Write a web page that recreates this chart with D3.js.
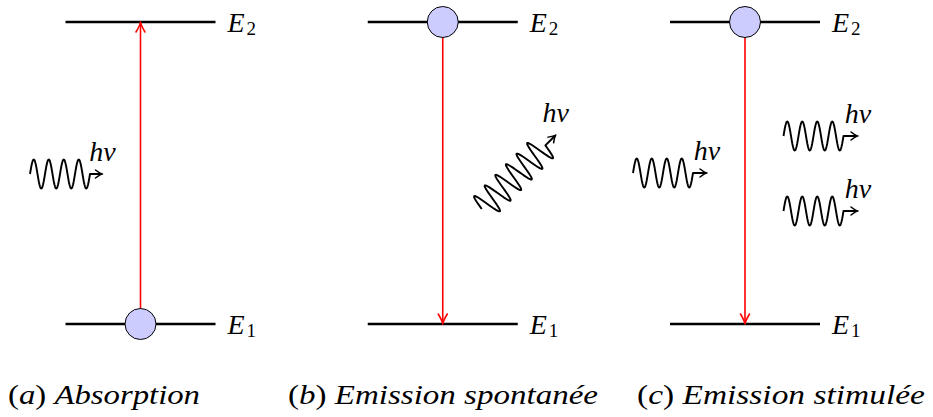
<!DOCTYPE html>
<html>
<head>
<meta charset="utf-8">
<script src="https://cdn.jsdelivr.net/npm/d3@7/dist/d3.min.js"></script>
<style>
  html, body { margin: 0; padding: 0; background: #fff; }
  svg { display: block; }
</style>
</head>
<body>
<svg id="chart" width="933" height="417"></svg>
<script>
// ---------- data ----------
const panelIds = ["a", "b", "c"];
const captionTexts = ["Absorption", "Emission spontanée", "Emission stimulée"];
const levelValues = [1, 2];              // energy levels E1, E2
const levelSubscripts = ["1", "2"];
const electronLevel = [1, 2, 2];         // where the electron (circle) sits in each panel
const transitionFrom = [1, 2, 2];        // red arrow start level
const transitionTo = [2, 1, 1];          // red arrow end level
const photonPanel = ["a", "b", "c", "c", "c"];
const photonPeriods = [4, 6, 4, 4, 4];
const photonLabel = "hν";

// ---------- layout ----------
const FONT = "'Liberation Serif', 'Times New Roman', Times, 'DejaVu Serif', serif";
const x = d3.scalePoint().domain(panelIds).range([140.5, 745]);
const y = d3.scaleLinear().domain([1, 2]).range([324, 22]);
const levelHalf = 75;
const electronR = 15.5;
const photonGeom = [
  { x0: -110.5, y0: 174, x1: -38, y1: 174 },
  { x0: 39, y0: 209, x1: 113, y1: 135 },
  { x0: -112, y0: 173, x1: -38, y1: 173 },
  { x0: 38.5, y0: 136, x1: 113, y1: 136 },
  { x0: 38.5, y0: 211, x1: 113, y1: 211 }
];
const wavePeriod = 15, waveAmp = 14.5;
const captionSpan = [[8, 200], [288, 598], [637, 925]];
const captionBaseline = 404;

const svg = d3.select("#chart");

function arrowHead(g, tx, ty, dx, dy, L, w, color, sw) {
  const n = Math.hypot(dx, dy); dx /= n; dy /= n;
  const px = -dy, py = dx;
  const pt = (a, b) => [tx + a * dx + b * px, ty + a * dy + b * py];
  const p = d3.path();
  const b1 = pt(-L, -w), c1 = pt(-L * 0.3, -w * 0.08), b2 = pt(-L, w), c2 = pt(-L * 0.3, w * 0.08);
  p.moveTo(b1[0], b1[1]);
  p.quadraticCurveTo(c1[0], c1[1], tx, ty);
  p.quadraticCurveTo(c2[0], c2[1], b2[0], b2[1]);
  g.append("path").attr("d", p.toString()).attr("fill", "none")
    .attr("stroke", color).attr("stroke-width", sw)
    .attr("stroke-linecap", "round").attr("stroke-linejoin", "round");
}

// ---------- energy levels ----------
panelIds.forEach((pid, i) => {
  const g = svg.append("g");
  const cx = x(pid);
  levelValues.forEach((lv, j) => {
    g.append("line")
      .attr("x1", cx - levelHalf).attr("x2", cx + levelHalf)
      .attr("y1", y(lv)).attr("y2", y(lv))
      .attr("stroke", "#000").attr("stroke-width", 2.3);
    g.append("text")
      .attr("font-family", FONT)
      .attr("x", cx + levelHalf + 12).attr("y", y(lv) + 10)
      .attr("font-size", 28).attr("font-style", "italic")
      .text("E");
    g.append("text")
      .attr("font-family", FONT)
      .attr("x", cx + levelHalf + 31).attr("y", y(lv) + 13)
      .attr("font-size", 19)
      .text(levelSubscripts[j]);
  });

  const from = transitionFrom[i], to = transitionTo[i];
  const dir = Math.sign(y(to) - y(from));
  const startY = (electronLevel[i] === from) ? y(from) + dir * electronR : y(from);
  const endY = y(to);
  g.append("line")
    .attr("x1", cx).attr("x2", cx)
    .attr("y1", startY).attr("y2", endY - dir * 1)
    .attr("stroke", "#ff0000").attr("stroke-width", 1.6);
  arrowHead(g, cx, endY, 0, dir, 10, 4.5, "#ff0000", 1.6);

  g.append("circle")
    .attr("cx", cx).attr("cy", y(electronLevel[i])).attr("r", electronR)
    .attr("fill", "#ccccff").attr("stroke", "#000").attr("stroke-width", 1);

  const cap = g.append("text")
    .attr("font-family", FONT)
    .attr("font-size", 28)
    .attr("x", 0).attr("y", 0);
  cap.append("tspan").text("(");
  cap.append("tspan").attr("font-style", "italic").text(pid);
  cap.append("tspan").text(")");
  cap.append("tspan").attr("font-style", "italic").text("\u00a0" + captionTexts[i]);
  const wNow = cap.node().getComputedTextLength();
  const [cx0, cx1] = captionSpan[i];
  cap.attr("transform", `translate(${cx0},${captionBaseline}) scale(${(cx1 - cx0) / wNow},1)`);
});

// ---------- photons ----------
photonPanel.forEach((pid, k) => {
  const gm = photonGeom[k];
  const cx = x(pid);
  const X0 = cx + gm.x0, Y0 = gm.y0, X1 = cx + gm.x1, Y1 = gm.y1;
  let dx = X1 - X0, dy = Y1 - Y0;
  const len = Math.hypot(dx, dy);
  dx /= len; dy /= len;
  const nx = dy, ny = -dx;
  const waveLen = photonPeriods[k] * wavePeriod;
  const pts = [];
  const steps = photonPeriods[k] * 24;
  for (let s = 0; s <= steps; s++) {
    const t = waveLen * s / steps;
    const off = waveAmp * Math.sin(2 * Math.PI * t / wavePeriod);
    pts.push([X0 + t * dx + off * nx, Y0 + t * dy + off * ny]);
  }
  pts.push([X1 - dx * 1, Y1 - dy * 1]);
  svg.append("path")
    .attr("d", d3.line()(pts))
    .attr("fill", "none").attr("stroke", "#000").attr("stroke-width", 1.9)
    .attr("stroke-linejoin", "round");
  arrowHead(svg, X1, Y1, dx, dy, 7, 4, "#000", 1.5);
  svg.append("text")
    .attr("font-family", FONT)
    .attr("x", X1).attr("y", Y1 - 13)
    .attr("text-anchor", "middle")
    .attr("font-size", 28).attr("font-style", "italic")
    .text(photonLabel);
});
</script>
</body>
</html>
